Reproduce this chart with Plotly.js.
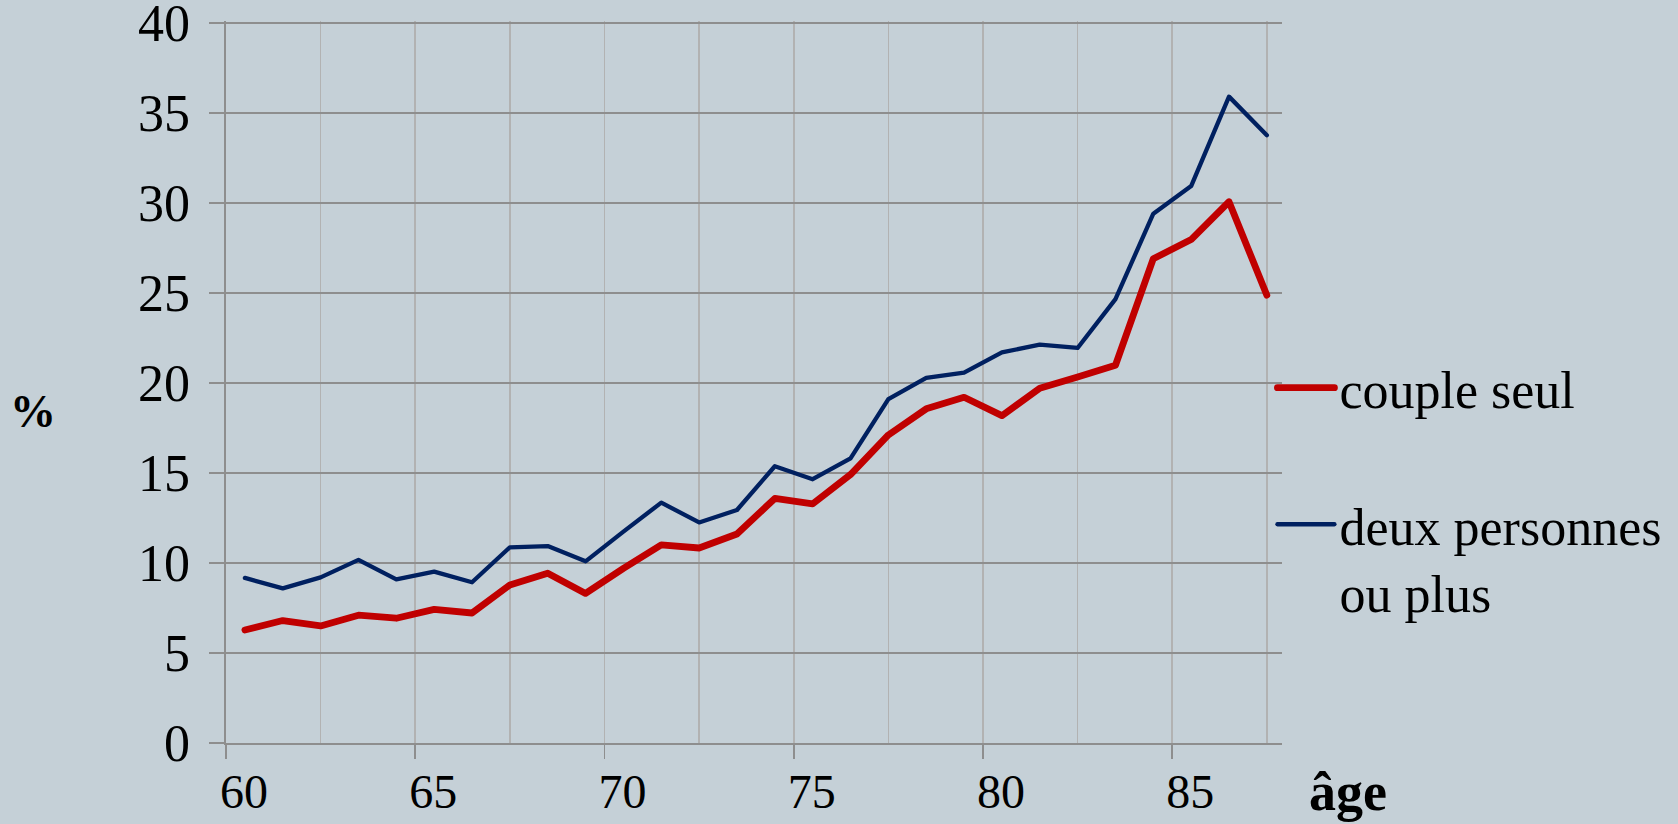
<!DOCTYPE html>
<html>
<head>
<meta charset="utf-8">
<script src="https://cdn.plot.ly/plotly-3.0.1.min.js"></script>
<style>
  html, body { margin: 0; padding: 0; background: #c5d0d7; }
  #chart { width: 1678px; height: 824px; }
  .js-line { stroke-linejoin: round; stroke-linecap: round; }
</style>
</head>
<body>
<div id="chart"></div>
<script>
// age (mid-year of each age band)
var ages = [60.5, 61.5, 62.5, 63.5, 64.5, 65.5, 66.5, 67.5, 68.5, 69.5,
            70.5, 71.5, 72.5, 73.5, 74.5, 75.5, 76.5, 77.5, 78.5, 79.5,
            80.5, 81.5, 82.5, 83.5, 84.5, 85.5, 86.5, 87.5];

// % couple seul
var coupleSeul = [6.28, 6.8, 6.5, 7.1, 6.93, 7.42, 7.22, 8.78, 9.43, 8.31,
                  9.7, 11.0, 10.83, 11.61, 13.58, 13.28, 14.91, 17.11, 18.56, 19.2,
                  18.18, 19.7, 20.33, 20.98, 26.9, 27.96, 30.06, 24.87];

// % deux personnes ou plus
var deuxPersonnes = [9.17, 8.59, 9.2, 10.17, 9.09, 9.52, 8.93, 10.87, 10.94, 10.09,
                     11.74, 13.35, 12.25, 12.94, 15.37, 14.65, 15.81, 19.1, 20.28, 20.57,
                     21.69, 22.13, 21.94, 24.65, 29.4, 30.93, 35.9, 33.76];

var xTickVals = [60, 65, 70, 75, 80, 85];
var xTickText = ["60", "65", "70", "75", "80", "85"];
var yTickVals = [0, 5, 10, 15, 20, 25, 30, 35, 40];
var yTickText = ["0", "5", "10", "15", "20", "25", "30", "35", "40"];

var serif = "Liberation Serif, Times New Roman, serif";

var traceCouple = {
    x: ages,
    y: coupleSeul,
    name: "couple seul",
    legendgroup: "a",
    type: "scatter",
    mode: "lines",
    line: {color: "#c00000", width: 6.8}
};

var traceDeux = {
    x: ages,
    y: deuxPersonnes,
    name: "deux personnes<br>ou plus",
    legendgroup: "b",
    type: "scatter",
    mode: "lines",
    line: {color: "#002060", width: 4.3}
};

var layout = {
    width: 1678,
    height: 824,
    margin: {l: 226, r: 395, t: 21, b: 81},
    paper_bgcolor: "#c5d0d7",
    plot_bgcolor: "#c5d0d7",
    font: {family: serif, color: "#000000"},
    showlegend: true,
    legend: {
        x: 0.99, xanchor: "left",
        y: 0.548, yanchor: "top",
        bgcolor: "rgba(0,0,0,0)",
        font: {family: serif, size: 52, color: "#000000"},
        itemwidth: 57,
        valign: "top",
        tracegroupgap: 66
    },
    xaxis: {
        range: [60, 87.9],
        tickmode: "array",
        tickvals: xTickVals,
        ticktext: xTickText,
        ticks: "outside",
        ticklen: 14,
        tickwidth: 1.7,
        tickcolor: "#8e8e8e",
        ticklabelstandoff: -8,
        ticklabelshift: 18,
        ticklabeloverflow: "allow",
        tickfont: {family: serif, size: 48, color: "#000000"},
        showgrid: true,
        gridcolor: "#b2b2b2",
        gridwidth: 1.7,
        minor: {tickmode: "linear", tick0: 60, dtick: 2.5, showgrid: true,
                gridcolor: "#b2b2b2", gridwidth: 1.7, ticks: ""},
        showline: true,
        linecolor: "#8e8e8e",
        linewidth: 1.7,
        zeroline: false
    },
    yaxis: {
        range: [0, 40.1],
        tickmode: "array",
        tickvals: yTickVals,
        ticktext: yTickText,
        ticks: "outside",
        ticklen: 15,
        tickwidth: 2,
        tickcolor: "#8e8e8e",
        ticklabelstandoff: 9,
        ticklabeloverflow: "allow",
        tickfont: {family: serif, size: 52, color: "#000000"},
        showgrid: true,
        gridcolor: "#8e8e8e",
        gridwidth: 2,
        showline: true,
        linecolor: "#8e8e8e",
        linewidth: 1.7,
        zeroline: false
    },
    annotations: [
        {text: "<b>%</b>", xref: "paper", yref: "paper", x: -0.1823, y: 0.459,
         xanchor: "center", yanchor: "middle", showarrow: false,
         font: {family: serif, size: 46, color: "#000000"}},
        {text: "<b>âge</b>", xref: "paper", yref: "paper", x: 1.0623, y: -0.068,
         xanchor: "center", yanchor: "middle", showarrow: false,
         font: {family: serif, size: 54, color: "#000000"}}
    ]
};

Plotly.newPlot("chart", [traceCouple, traceDeux], layout, {staticPlot: true});
</script>
</body>
</html>
